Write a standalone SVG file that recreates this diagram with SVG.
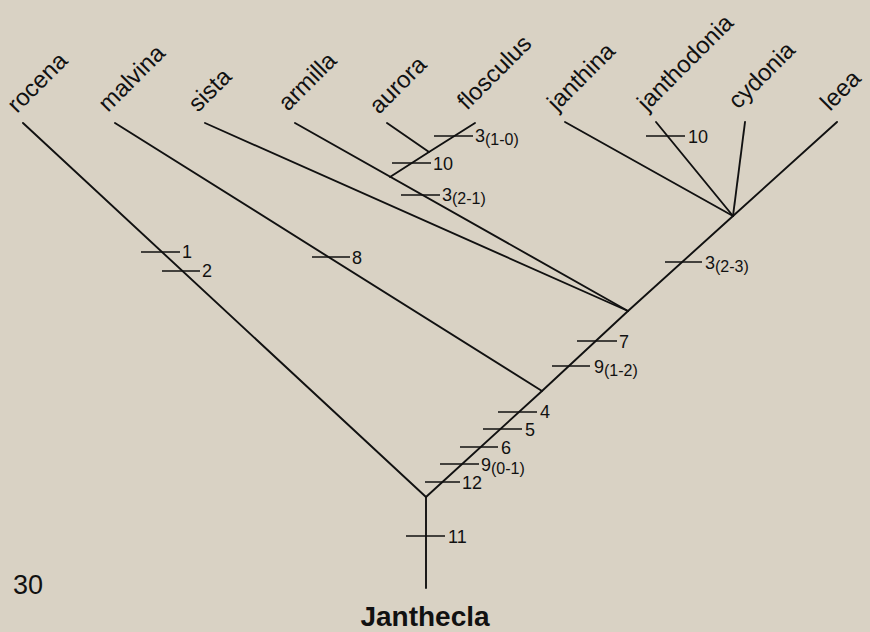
<svg xmlns="http://www.w3.org/2000/svg" width="870" height="632" viewBox="0 0 870 632">
<style>
  .bg{fill:#d9d2c4}
  .br{stroke:#111;stroke-width:1.9;fill:none;stroke-linecap:round;stroke-linejoin:round}
  .tk{stroke:#111;stroke-width:1.3;fill:none}
  .tx{font-family:"Liberation Sans",Arial,Helvetica,sans-serif;fill:#111}
  .taxon{font-size:24px}
  .num{font-size:18px}
  .sub{font-size:16px}
  .title{font-size:28px;font-weight:bold}
</style>
<rect class="bg" x="0" y="0" width="870" height="632"/>

<g id="connectors">
  <line class="br" x1="426" y1="588" x2="426" y2="497"/>
  <line class="br" x1="426" y1="497" x2="23" y2="123"/>
  <polyline class="br" points="426,497 542,391 628,311 733,216 837,122"/>
  <line class="br" x1="542" y1="391" x2="115" y2="123"/>
  <line class="br" x1="628" y1="311" x2="205" y2="123"/>
  <line class="br" x1="628" y1="311" x2="295" y2="123"/>
  <polyline class="br" points="390,177 429,152 475,123"/>
  <line class="br" x1="429" y1="152" x2="387" y2="123"/>
  <line class="br" x1="733" y1="216" x2="565" y2="122"/>
  <line class="br" x1="733" y1="216" x2="656" y2="122"/>
  <line class="br" x1="733" y1="216" x2="745" y2="122"/>
</g>

<g id="taxa" class="tx taxon">
  <g id="rocena"><text transform="translate(17,114) rotate(-45)">rocena</text></g>
  <g id="malvina"><text transform="translate(108,113) rotate(-45)">malvina</text></g>
  <g id="sista"><text transform="translate(198,113) rotate(-45)">sista</text></g>
  <g id="armilla"><text transform="translate(288,112) rotate(-45)">armilla</text></g>
  <g id="aurora"><text transform="translate(379,115) rotate(-45)">aurora</text></g>
  <g id="flosculus"><text transform="translate(467,111) rotate(-45)">flosculus</text></g>
  <g id="janthina"><text transform="translate(557,112) rotate(-45)">janthina</text></g>
  <g id="janthodonia"><text transform="translate(647,112) rotate(-45)">janthodonia</text></g>
  <g id="cydonia"><text transform="translate(738,110) rotate(-45)">cydonia</text></g>
  <g id="leea"><text transform="translate(830,112) rotate(-45)">leea</text></g>
</g>

<g id="characters">
  <g class="tk">
    <line x1="141" y1="252" x2="180" y2="252"/>
    <line x1="162" y1="271" x2="200" y2="271"/>
    <line x1="312" y1="257" x2="350" y2="257"/>
    <line x1="434" y1="136" x2="473" y2="136"/>
    <line x1="392" y1="163" x2="431" y2="163"/>
    <line x1="401" y1="195" x2="440" y2="195"/>
    <line x1="646" y1="136" x2="685" y2="136"/>
    <line x1="665" y1="262" x2="702" y2="262"/>
    <line x1="577" y1="341" x2="617" y2="341"/>
    <line x1="552" y1="366" x2="590" y2="366"/>
    <line x1="498" y1="412" x2="537" y2="412"/>
    <line x1="483" y1="429" x2="522" y2="429"/>
    <line x1="460" y1="447" x2="498" y2="447"/>
    <line x1="440" y1="464" x2="479" y2="464"/>
    <line x1="425" y1="482" x2="460" y2="482"/>
    <line x1="406" y1="536" x2="445" y2="536"/>
  </g>
  <g class="tx num">
    <text x="182" y="258">1</text>
    <text x="202" y="277">2</text>
    <text x="352" y="264">8</text>
    <text x="475" y="142">3<tspan class="sub" dy="3">(1-0)</tspan></text>
    <text x="433" y="170">10</text>
    <text x="442" y="201">3<tspan class="sub" dy="3">(2-1)</tspan></text>
    <text x="688" y="143">10</text>
    <text x="705" y="269">3<tspan class="sub" dy="3">(2-3)</tspan></text>
    <text x="619" y="348">7</text>
    <text x="594" y="373">9<tspan class="sub" dy="3">(1-2)</tspan></text>
    <text x="540" y="418">4</text>
    <text x="525" y="436">5</text>
    <text x="501" y="454">6</text>
    <text x="481" y="471">9<tspan class="sub" dy="3">(0-1)</tspan></text>
    <text x="462" y="489">12</text>
    <text x="448" y="543">11</text>
  </g>
</g>

<text class="tx" x="13" y="594" style="font-size:27px">30</text>
<text class="tx title" x="425" y="626" text-anchor="middle">Janthecla</text>
</svg>
